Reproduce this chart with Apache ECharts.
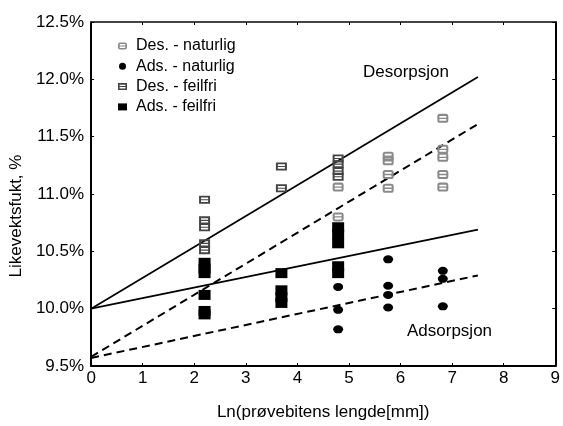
<!DOCTYPE html>
<html>
<head>
<meta charset="utf-8">
<script src="https://cdn.jsdelivr.net/npm/echarts@6/dist/echarts.min.js"></script>
<style>
html,body{margin:0;padding:0;background:#fff;}
#c{width:563px;height:426px;}
</style>
</head>
<body>
<div id="c"></div>
<script>
// ---- data ----
var seriesNames = ['Des. - naturlig', 'Ads. - naturlig', 'Des. - feilfri', 'Ads. - feilfri'];
var desNaturlig = [
  [4.79, 11.06], [4.79, 10.80],
  [5.76, 11.33], [5.76, 11.29], [5.76, 11.17], [5.76, 11.05],
  [6.82, 11.66], [6.82, 11.39], [6.82, 11.32], [6.82, 11.17], [6.82, 11.06]
];
var adsNaturlig = [
  [4.79, 10.19], [4.79, 9.99], [4.79, 9.82],
  [5.76, 10.43], [5.76, 10.20], [5.76, 10.12], [5.76, 10.01],
  [6.82, 10.33], [6.82, 10.26], [6.82, 10.02]
];
var desFeilfri = [
  [2.2, 10.95], [2.2, 10.77], [2.2, 10.71], [2.2, 10.57], [2.2, 10.51],
  [3.69, 11.24], [3.69, 11.05],
  [4.79, 11.31], [4.79, 11.26], [4.79, 11.20], [4.79, 11.15]
];
var adsFeilfri = [
  [2.2, 10.40], [2.2, 10.35], [2.2, 10.31], [2.2, 10.12], [2.2, 9.98], [2.2, 9.95],
  [3.69, 10.31], [3.69, 10.16], [3.69, 10.10], [3.69, 10.05],
  [4.79, 10.71], [4.79, 10.65], [4.79, 10.57], [4.79, 10.37], [4.79, 10.31]
];
// trend lines
var desSolid = [[0, 10.0], [7.5, 12.02]];
var desDashed = [[0, 9.58], [7.5, 11.61]];
var adsSolid = [[0, 10.0], [7.5, 10.69]];
var adsDashed = [[0, 9.57], [7.5, 10.29]];
var xTicks = [0, 1, 2, 3, 4, 5, 6, 7, 8, 9];
var yTicks = [9.5, 10.0, 10.5, 11.0, 11.5, 12.0, 12.5];
var xTitle = 'Ln(prøvebitens lengde[mm])';
var yTitle = 'Likevektsfukt, %';
var labelDes = 'Desorpsjon';
var labelAds = 'Adsorpsjon';

// ---- symbols ----
var symDesNat = 'path://M2 0 L7 0 Q9 0 9 2 L9 5 Q9 7 7 7 L2 7 Q0 7 0 5 L0 2 Q0 0 2 0 Z M1.7 1.6 L1.7 3 L7.3 3 L7.3 1.6 Z M1.7 4 L1.7 5.4 L7.3 5.4 L7.3 4 Z';
var symDesFeil = 'path://M0 0 L9 0 L9 7 L0 7 Z M1.6 1.6 L1.6 3 L7.4 3 L7.4 1.6 Z M1.6 4 L1.6 5.4 L7.4 5.4 L7.4 4 Z';

var FONT = 'Liberation Sans, Arial, sans-serif';
var chart = echarts.init(document.getElementById('c'), null, {renderer: 'canvas'});

function trend(data, dashed) {
  return {
    type: 'line', data: data, symbol: 'none', silent: true, z: 1,
    lineStyle: {color: '#000', width: dashed ? 2 : 1.7, type: dashed ? [8, 5] : 'solid'}
  };
}

var option = {
  backgroundColor: '#fff',
  animation: false,
  grid: {left: 89, right: 6, top: 22, bottom: 57},
  legend: {
    data: seriesNames,
    orient: 'vertical', left: 113, top: 33,
    itemWidth: 9, itemHeight: 7, itemGap: 4.3,
    textStyle: {fontFamily: FONT, fontSize: 16, color: '#000', lineHeight: 16, padding: [0, 0, 0, 4]}
  },
  xAxis: [{
    type: 'value', min: 0, max: 9, interval: 1,
    name: xTitle, nameLocation: 'middle', nameGap: 38,
    nameTextStyle: {fontFamily: FONT, fontSize: 17, color: '#000'},
    axisLine: {show: true, onZero: false, lineStyle: {color: '#000', width: 2}},
    axisTick: {show: true, inside: true, length: 3, lineStyle: {color: '#000'}},
    axisLabel: {fontFamily: FONT, fontSize: 17, color: '#000', margin: 4,
      formatter: function (v) { return xTicks.indexOf(v) >= 0 ? String(v) : ''; }},
    splitLine: {show: false}
  }, {
    type: 'value', min: 0, max: 9, interval: 1, position: 'top',
    axisLine: {show: true, onZero: false, lineStyle: {color: '#444', width: 2}},
    axisTick: {show: true, inside: true, length: 3, lineStyle: {color: '#000'}},
    axisLabel: {show: false}, splitLine: {show: false}
  }],
  yAxis: [{
    type: 'value', min: 9.5, max: 12.5, interval: 0.5,
    name: yTitle, nameLocation: 'middle', nameGap: 62, nameRotate: 90,
    nameTextStyle: {fontFamily: FONT, fontSize: 17, color: '#000', padding: [0, 44, 0, 0]},
    axisLine: {show: true, onZero: false, lineStyle: {color: '#000', width: 2}},
    axisTick: {show: true, inside: true, length: 3, lineStyle: {color: '#000'}},
    axisLabel: {fontFamily: FONT, fontSize: 17, color: '#000', margin: 7,
      formatter: function (v) { return v.toFixed(1) + '%'; }},
    splitLine: {show: false}
  }, {
    type: 'value', min: 9.5, max: 12.5, interval: 0.5, position: 'right',
    axisLine: {show: true, onZero: false, lineStyle: {color: '#000', width: 2}},
    axisTick: {show: true, inside: true, length: 3, lineStyle: {color: '#000'}},
    axisLabel: {show: false}, splitLine: {show: false}
  }],
  series: [
    {name: seriesNames[0], type: 'scatter', data: desNaturlig, symbol: symDesNat, symbolSize: [11, 9],
      itemStyle: {color: '#8a8a8a', opacity: 1}, z: 3},
    {name: seriesNames[1], type: 'scatter', data: adsNaturlig, symbol: 'circle', symbolSize: [10, 8],
      itemStyle: {color: '#000', opacity: 1}, z: 3},
    {name: seriesNames[2], type: 'scatter', data: desFeilfri, symbol: symDesFeil, symbolSize: [11, 8],
      itemStyle: {color: '#444', opacity: 1}, z: 3},
    {name: seriesNames[3], type: 'scatter', data: adsFeilfri, symbol: 'rect', symbolSize: [12, 10],
      itemStyle: {color: '#000', opacity: 1}, z: 3},
    trend(desSolid, false),
    trend(desDashed, true),
    trend(adsSolid, false),
    trend(adsDashed, true)
  ],
  graphic: [
    {type: 'text', left: 363, top: 64, style: {text: labelDes, font: '17px ' + FONT, fill: '#000'}},
    {type: 'text', left: 407, top: 323, style: {text: labelAds, font: '17px ' + FONT, fill: '#000'}}
  ]
};
chart.setOption(option);
</script>
</body>
</html>
